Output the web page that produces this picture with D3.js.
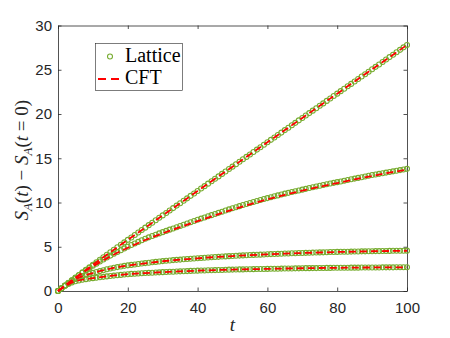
<!DOCTYPE html>
<html>
<head>
<meta charset="utf-8">
<script src="https://cdn.jsdelivr.net/npm/d3@7/dist/d3.min.js"></script>
<style>
  body { margin: 0; background: #fff; }
  svg { display: block; }
</style>
</head>
<body>
<div id="chart"><svg width="450" height="338"></svg></div>
<script>
// data
const xTicks = [0, 20, 40, 60, 80, 100];
const yTicks = [0, 5, 10, 15, 20, 25, 30];

// lattice points, one per t = 0..100
const lattice1 = [
  0, 0.31, 0.62, 0.92, 1.22, 1.51, 1.81, 2.10, 2.39, 2.68,
  2.96, 3.25, 3.53, 3.82, 4.10, 4.38, 4.66, 4.94, 5.22, 5.50,
  5.78, 6.05, 6.33, 6.61, 6.89, 7.16, 7.44, 7.71, 7.99, 8.27,
  8.54, 8.82, 9.10, 9.37, 9.65, 9.92, 10.20, 10.47, 10.75, 11.02,
  11.30, 11.58, 11.85, 12.13, 12.40, 12.68, 12.95, 13.23, 13.50, 13.78,
  14.05, 14.33, 14.60, 14.88, 15.15, 15.43, 15.70, 15.98, 16.25, 16.53,
  16.80, 17.08, 17.35, 17.63, 17.90, 18.18, 18.45, 18.73, 19.00, 19.28,
  19.55, 19.83, 20.10, 20.38, 20.65, 20.93, 21.20, 21.48, 21.75, 22.03,
  22.30, 22.58, 22.85, 23.13, 23.40, 23.68, 23.95, 24.23, 24.50, 24.78,
  25.05, 25.33, 25.60, 25.88, 26.15, 26.43, 26.70, 26.98, 27.25, 27.53,
  27.80
];
const lattice2 = [
  0, 0.30, 0.61, 0.91, 1.21, 1.50, 1.78, 2.06, 2.33, 2.60,
  2.85, 3.09, 3.33, 3.56, 3.78, 4.00, 4.21, 4.41, 4.61, 4.81,
  5.00, 5.19, 5.37, 5.55, 5.73, 5.90, 6.06, 6.21, 6.36, 6.51,
  6.65, 6.79, 6.93, 7.07, 7.21, 7.35, 7.49, 7.63, 7.77, 7.91,
  8.05, 8.18, 8.31, 8.44, 8.57, 8.70, 8.83, 8.96, 9.09, 9.22,
  9.35, 9.47, 9.59, 9.71, 9.83, 9.95, 10.06, 10.17, 10.28, 10.39,
  10.50, 10.60, 10.70, 10.80, 10.90, 11.00, 11.09, 11.18, 11.27, 11.36,
  11.45, 11.54, 11.63, 11.72, 11.81, 11.90, 11.98, 12.06, 12.14, 12.22,
  12.30, 12.38, 12.46, 12.54, 12.62, 12.70, 12.78, 12.86, 12.94, 13.02,
  13.10, 13.17, 13.24, 13.31, 13.38, 13.45, 13.52, 13.59, 13.66, 13.73,
  13.80
];
const lattice3 = [
  0, 0.30, 0.60, 0.88, 1.13, 1.35, 1.53, 1.69, 1.83, 1.95,
  2.05, 2.15, 2.25, 2.35, 2.45, 2.55, 2.63, 2.70, 2.77, 2.84,
  2.90, 2.95, 3.00, 3.05, 3.10, 3.15, 3.20, 3.25, 3.29, 3.34,
  3.38, 3.42, 3.45, 3.49, 3.52, 3.55, 3.58, 3.61, 3.64, 3.67,
  3.70, 3.73, 3.76, 3.78, 3.81, 3.84, 3.86, 3.89, 3.91, 3.94,
  3.96, 3.98, 4.00, 4.02, 4.04, 4.06, 4.08, 4.10, 4.11, 4.13,
  4.15, 4.17, 4.18, 4.20, 4.21, 4.23, 4.24, 4.26, 4.27, 4.29,
  4.30, 4.31, 4.32, 4.34, 4.35, 4.36, 4.37, 4.38, 4.40, 4.41,
  4.42, 4.43, 4.44, 4.44, 4.45, 4.46, 4.47, 4.48, 4.48, 4.49,
  4.50, 4.51, 4.51, 4.52, 4.52, 4.53, 4.54, 4.54, 4.55, 4.55,
  4.56
];
const lattice4 = [
  0, 0.30, 0.58, 0.80, 0.97, 1.10, 1.19, 1.27, 1.34, 1.40,
  1.45, 1.50, 1.55, 1.60, 1.65, 1.70, 1.74, 1.78, 1.82, 1.86,
  1.90, 1.93, 1.95, 1.98, 2.00, 2.03, 2.05, 2.07, 2.09, 2.11,
  2.13, 2.15, 2.17, 2.18, 2.20, 2.22, 2.24, 2.25, 2.27, 2.28,
  2.30, 2.31, 2.32, 2.34, 2.35, 2.36, 2.37, 2.38, 2.40, 2.41,
  2.42, 2.43, 2.44, 2.44, 2.45, 2.46, 2.47, 2.48, 2.48, 2.49,
  2.50, 2.51, 2.52, 2.52, 2.53, 2.54, 2.55, 2.55, 2.56, 2.56,
  2.57, 2.58, 2.58, 2.59, 2.59, 2.60, 2.60, 2.61, 2.61, 2.62,
  2.62, 2.62, 2.63, 2.63, 2.64, 2.64, 2.64, 2.65, 2.65, 2.66,
  2.66, 2.66, 2.66, 2.67, 2.67, 2.67, 2.67, 2.68, 2.68, 2.68,
  2.68
];

// CFT curves, sampled at t = 0, 5, ..., 100
const cftT = [0, 5, 10, 15, 20, 25, 30, 35, 40, 45, 50, 55, 60, 65, 70, 75, 80, 85, 90, 95, 100];
const cft1 = [0, 1.51, 2.96, 4.38, 5.78, 7.16, 8.54, 9.92, 11.30, 12.68, 14.05, 15.43, 16.80, 18.18, 19.55, 20.93, 22.30, 23.68, 25.05, 26.43, 27.80];
const cft2 = [0, 1.47, 2.78, 3.90, 4.88, 5.76, 6.52, 7.22, 7.90, 8.56, 9.19, 9.79, 10.35, 10.86, 11.33, 11.78, 12.20, 12.61, 13.00, 13.37, 13.72];
const cft3 = [0, 1.33, 2.03, 2.53, 2.88, 3.13, 3.36, 3.54, 3.69, 3.83, 3.95, 4.05, 4.14, 4.22, 4.29, 4.35, 4.41, 4.45, 4.49, 4.52, 4.55];
const cft4 = [0, 1.10, 1.45, 1.70, 1.90, 2.03, 2.13, 2.22, 2.30, 2.36, 2.42, 2.46, 2.50, 2.54, 2.57, 2.60, 2.62, 2.64, 2.66, 2.67, 2.68];

const latticeSeries = [lattice1, lattice2, lattice3, lattice4];
const cftSeries = [cft1, cft2, cft3, cft4];

const GREEN = '#77AC30';
const RED = '#FF0000';
const AXIS = '#262626';

const svg = d3.select('#chart svg');
const M_LEFT = 58, M_RIGHT = 407, M_TOP = 25.5, M_BOTTOM = 291;

const scaleX = d3.scaleLinear().domain([0, 100]).range([M_LEFT, M_RIGHT]);
const scaleY = d3.scaleLinear().domain([0, 30]).range([M_BOTTOM, M_TOP]);

// axes box with inward ticks
const axisFont = '"Liberation Sans", Arial, sans-serif';

svg.append('g')
  .attr('transform', `translate(0,${M_BOTTOM})`)
  .call(d3.axisBottom(scaleX).tickValues(xTicks).tickSizeInner(-3.5).tickSizeOuter(0).tickPadding(11))
  .call(g => g.selectAll('text').style('font-size', '15px'));

svg.append('g')
  .attr('transform', `translate(0,${M_TOP})`)
  .call(d3.axisTop(scaleX).tickValues(xTicks).tickSizeInner(-3.5).tickSizeOuter(0).tickFormat(''));

svg.append('g')
  .attr('transform', `translate(${M_LEFT},0)`)
  .call(d3.axisLeft(scaleY).tickValues(yTicks).tickSizeInner(-3.5).tickSizeOuter(0).tickPadding(6))
  .call(g => g.selectAll('text').style('font-size', '15px'));

svg.append('g')
  .attr('transform', `translate(${M_RIGHT},0)`)
  .call(d3.axisRight(scaleY).tickValues(yTicks).tickSizeInner(-3.5).tickSizeOuter(0).tickFormat(''));

svg.selectAll('.domain').attr('stroke', AXIS).attr('stroke-width', 0.8);
svg.selectAll('.tick line').attr('stroke', AXIS).attr('stroke-width', 0.8);
svg.selectAll('.tick text').attr('fill', AXIS).style('font-family', axisFont);

// lattice markers
const markersG = svg.append('g').attr('id', 'lattice');
latticeSeries.forEach(series => {
  markersG.append('g')
    .selectAll('circle')
    .data(series)
    .join('circle')
    .attr('cx', (d, i) => scaleX(i))
    .attr('cy', d => scaleY(d))
    .attr('r', 2.5)
    .attr('fill', 'none')
    .attr('stroke', GREEN)
    .attr('stroke-width', 1.1);
});

// CFT dashed lines
const line = d3.line()
  .x((d, i) => scaleX(cftT[i]))
  .y(d => scaleY(d))
  .curve(d3.curveMonotoneX);

svg.append('g')
  .attr('id', 'cft')
  .selectAll('path')
  .data(cftSeries)
  .join('path')
  .attr('d', d => line(d))
  .attr('fill', 'none')
  .attr('stroke', RED)
  .attr('stroke-width', 1.8)
  .attr('stroke-dasharray', '7,4');

// axis labels
const serif = '"Liberation Serif", "DejaVu Serif", serif';

svg.append('text')
  .attr('x', (M_LEFT + M_RIGHT) / 2)
  .attr('y', 331)
  .attr('text-anchor', 'middle')
  .style('font-family', serif)
  .style('font-style', 'italic')
  .style('font-size', '19px')
  .attr('fill', AXIS)
  .text('t');

const yLabel = svg.append('text')
  .attr('transform', `translate(28,${(M_TOP + M_BOTTOM) / 2 + 2}) rotate(-90)`)
  .attr('text-anchor', 'middle')
  .style('font-family', serif)
  .style('font-size', '19px')
  .attr('fill', AXIS);
yLabel.append('tspan').style('font-style', 'italic').text('S');
yLabel.append('tspan').style('font-style', 'italic').style('font-size', '13px').attr('dy', 4).text('A');
yLabel.append('tspan').attr('dy', -4).text('(');
yLabel.append('tspan').style('font-style', 'italic').text('t');
yLabel.append('tspan').text(') \u2212 ');
yLabel.append('tspan').style('font-style', 'italic').text('S');
yLabel.append('tspan').style('font-style', 'italic').style('font-size', '13px').attr('dy', 4).text('A');
yLabel.append('tspan').attr('dy', -4).text('(');
yLabel.append('tspan').style('font-style', 'italic').text('t');
yLabel.append('tspan').text(' = 0)');

// legend
const legend = svg.append('g').attr('id', 'legend');
legend.append('rect')
  .attr('x', 95.5).attr('y', 43.5)
  .attr('width', 87).attr('height', 47)
  .attr('fill', '#fff')
  .attr('stroke', AXIS)
  .attr('stroke-width', 0.6);
legend.append('circle')
  .attr('cx', 110).attr('cy', 56.5).attr('r', 2.5)
  .attr('fill', 'none').attr('stroke', GREEN).attr('stroke-width', 1.1);
legend.append('line')
  .attr('x1', 98).attr('x2', 119).attr('y1', 79).attr('y2', 79)
  .attr('stroke', RED).attr('stroke-width', 1.8).attr('stroke-dasharray', '8,5');
legend.selectAll('text')
  .data(['Lattice', 'CFT'])
  .join('text')
  .attr('x', 125)
  .attr('y', (d, i) => 62 + i * 22)
  .style('font-family', serif)
  .style('font-size', '20px')
  .attr('fill', '#000')
  .text(d => d);
</script>
</body>
</html>
